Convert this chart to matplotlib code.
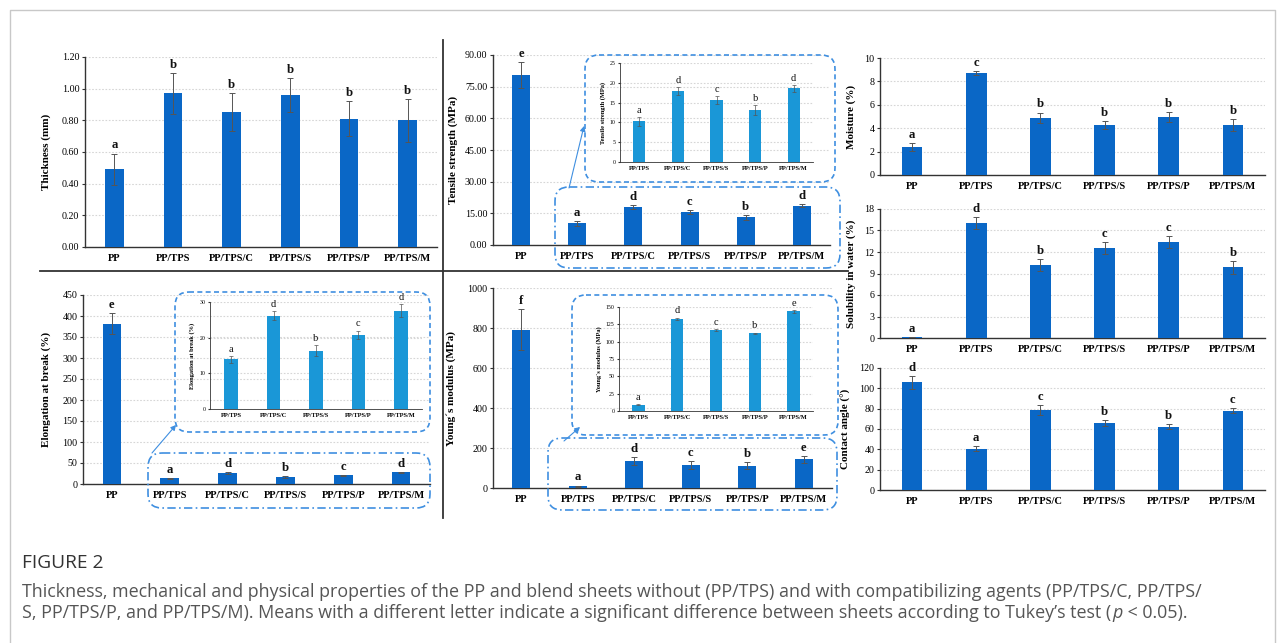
import matplotlib
matplotlib.use('Agg')
import matplotlib.pyplot as plt
from matplotlib.patches import FancyBboxPatch, FancyArrowPatch
import numpy as np

W, H = 1282, 643
SERIF = ['Liberation Serif', 'DejaVu Serif']
SANS = ['Open Sans', 'DejaVu Sans']

# ---------------- data ----------------
cats6 = ['PP', 'PP/TPS', 'PP/TPS/C', 'PP/TPS/S', 'PP/TPS/P', 'PP/TPS/M']
cats5 = ['PP/TPS', 'PP/TPS/C', 'PP/TPS/S', 'PP/TPS/P', 'PP/TPS/M']

thick = [0.49, 0.97, 0.85, 0.96, 0.81, 0.80]
thick_err = [0.10, 0.13, 0.12, 0.105, 0.11, 0.135]
thick_let = ['a', 'b', 'b', 'b', 'b', 'b']

tens = [80.5, 10.3, 18.0, 15.6, 13.1, 18.6]
tens_err = [6.0, 1.1, 1.0, 1.0, 1.2, 0.6]
tens_let = ['e', 'a', 'd', 'c', 'b', 'd']
tens_in = [10.3, 18.0, 15.6, 13.1, 18.6]
tens_in_err = [1.1, 1.0, 1.0, 1.2, 0.8]
tens_in_let = ['a', 'd', 'c', 'b', 'd']

elong = [382.0, 13.9, 26.2, 16.4, 20.8, 27.6]
elong_err = [24.0, 1.0, 1.2, 1.5, 1.2, 1.9]
elong_let = ['e', 'a', 'd', 'b', 'c', 'd']
elong_in = [13.9, 26.2, 16.4, 20.8, 27.6]
elong_in_err = [1.0, 1.2, 1.5, 1.2, 1.9]
elong_in_let = ['a', 'd', 'b', 'c', 'd']

young = [792.0, 9.2, 133.0, 116.6, 111.8, 143.7]
young_err = [103.0, 3.0, 20.0, 20.0, 16.0, 17.0]
young_let = ['f', 'a', 'd', 'c', 'b', 'e']
young_in = [9.2, 133.0, 116.6, 111.8, 143.7]
young_in_err = [1.0, 1.8, 1.6, 1.4, 2.2]
young_in_let = ['a', 'd', 'c', 'b', 'e']

moist = [2.37, 8.71, 4.89, 4.26, 4.94, 4.26]
moist_err = [0.35, 0.2, 0.45, 0.35, 0.45, 0.5]
moist_let = ['a', 'c', 'b', 'b', 'b', 'b']

solub = [0.15, 16.0, 10.15, 12.6, 13.4, 9.85]
solub_err = [0.0, 0.85, 0.85, 0.85, 0.85, 0.9]
solub_let = ['a', 'd', 'b', 'c', 'c', 'b']

angle = [105.9, 40.5, 78.6, 65.8, 62.2, 78.0]
angle_err = [6.3, 2.3, 4.6, 3.3, 2.6, 2.6]
angle_let = ['d', 'a', 'c', 'b', 'b', 'c']

# ---------------- figure ----------------
fig = plt.figure(figsize=(W / 100, H / 100), dpi=100)
fig.patch.set_facecolor('white')

MAIN_COL = '#0a67c6'
INSET_COL = '#1a97d7'
BOX_COL = '#3f8fe0'


def panel(px, cats, vals, errs, lets, ymax, step, fmt, ylabel, inset=False, labelpad=4):
    l, t, r, b = px
    ax = fig.add_axes([l / W, 1 - b / H, (r - l) / W, (b - t) / H])
    n = len(cats)
    x = np.arange(n) + 0.5
    if inset:
        fs_tick, fs_cat, fs_lab, fs_let = 4.2, 4.6, 4.6, 7.5
        col, ew, cs = INSET_COL, 0.5, 1.2
    else:
        fs_tick, fs_cat, fs_lab, fs_let = 7.2, 7.6, 8.0, 9.2
        col, ew, cs = MAIN_COL, 0.7, 2.0
    ax.bar(x, vals, width=0.32, color=col, zorder=3,
           yerr=errs, error_kw=dict(ecolor='#555555', elinewidth=ew, capsize=cs, capthick=ew, zorder=4))
    ax.set_xlim(0, n)
    ax.set_ylim(0, ymax)
    ticks = np.arange(0, ymax + step / 2, step)
    ax.set_yticks(ticks)
    ax.set_yticklabels([fmt.format(v) for v in ticks], fontfamily=SERIF, fontsize=fs_tick)
    ax.set_xticks(x)
    ax.set_xticklabels(cats, fontfamily=SERIF, fontsize=fs_cat, fontweight='bold')
    ax.tick_params(axis='x', length=0, pad=3 if inset else 5)
    ax.tick_params(axis='y', length=2 if not inset else 1.2, width=0.8, pad=2, color='#333333')
    ax.yaxis.grid(True, linestyle=(0, (1.5, 1.5)), color='#d6d6d6', linewidth=0.8, zorder=0)
    ax.set_axisbelow(True)
    for s in ['top', 'right']:
        ax.spines[s].set_visible(False)
    for s in ['left', 'bottom']:
        ax.spines[s].set_color('#333333')
        ax.spines[s].set_linewidth(1.0 if not inset else 0.6)
    ax.set_ylabel(ylabel, fontfamily=SERIF, fontsize=fs_lab, fontweight='bold', labelpad=labelpad)
    ax.patch.set_alpha(0)
    for xi, v, e, lt in zip(x, vals, errs, lets):
        ax.annotate(lt, (xi, v + e), xytext=(0, 1.5), textcoords='offset points',
                    ha='center', va='bottom', fontfamily=SERIF, fontsize=fs_let,
                    fontweight='normal' if inset else 'bold', color='#111111')
    return ax


panel((85, 57, 437, 247), cats6, thick, thick_err, thick_let, 1.2, 0.2, '{:.2f}', 'Thickness (mm)', labelpad=8)
panel((493, 55, 830, 245), cats6, tens, tens_err, tens_let, 90, 15, '{:.2f}', 'Tensile strength (MPa)', labelpad=5)
panel((83, 295, 430, 484), cats6, elong, elong_err, elong_let, 450, 50, '{:.0f}', 'Elongation at break (%)', labelpad=8)
panel((493, 288, 832, 488), cats6, young, young_err, young_let, 1000, 200, '{:.0f}', 'Young\u00b4s modulus (MPa)', labelpad=8)
panel((880, 58, 1265, 175), cats6, moist, moist_err, moist_let, 10, 2, '{:.0f}', 'Moisture (%)', labelpad=6)
panel((880, 209, 1265, 338), cats6, solub, solub_err, solub_let, 18, 3, '{:.0f}', 'Solubility in water (%)', labelpad=6)
panel((880, 368, 1265, 490), cats6, angle, angle_err, angle_let, 120, 20, '{:.0f}', 'Contact angle (\u00b0)', labelpad=6)

panel((620, 63, 813, 162), cats5, tens_in, tens_in_err, tens_in_let, 25, 5, '{:.0f}', 'Tensile strength (MPa)', inset=True, labelpad=3)
panel((210, 302, 422, 409), cats5, elong_in, elong_in_err, elong_in_let, 30, 10, '{:.0f}', 'Elongation at break (%)', inset=True, labelpad=3)
panel((619, 307, 813, 411), cats5, young_in, young_in_err, young_in_let, 150, 25, '{:.0f}', 'Young\u00b4s modulus (MPa)', inset=True, labelpad=3)

# ---------------- overlay (pixel coordinates) ----------------
ov = fig.add_axes([0, 0, 1, 1], zorder=20)
ov.set_xlim(0, W)
ov.set_ylim(H, 0)
ov.axis('off')
ov.patch.set_alpha(0)


def rbox(x0, y0, x1, y1, ls):
    p = FancyBboxPatch((x0, y0), x1 - x0, y1 - y0, boxstyle='round,pad=0,rounding_size=14',
                       fill=False, edgecolor=BOX_COL, linewidth=1.2, linestyle=ls)
    ov.add_patch(p)


def arrow(x0, y0, x1, y1):
    a = FancyArrowPatch((x0, y0), (x1, y1), arrowstyle='-|>,head_length=3,head_width=1.6',
                        color=BOX_COL, linewidth=0.8, shrinkA=0, shrinkB=0)
    ov.add_patch(a)


DASH = (0, (3, 2))
DASHDOT = (0, (5, 2, 1, 2))
rbox(585, 55, 835, 182, DASH)
rbox(555, 187, 840, 268, DASHDOT)
arrow(569, 188, 584, 126)

rbox(175, 292, 430, 432, DASH)
rbox(148, 453, 430, 508, DASHDOT)
arrow(152, 453, 176, 425)

rbox(572, 295, 838, 435, DASH)
rbox(548, 438, 837, 510, DASHDOT)
arrow(564, 441, 580, 427)

# separators
ov.plot([443, 443], [40, 518], color='#333333', linewidth=1.3)
ov.plot([40, 848], [271, 271], color='#333333', linewidth=1.3)

# outer frame
ov.plot([10, 10, 1275, 1275], [H, 10, 10, H], color='#c8c8c8', linewidth=1.0)

# ---------------- caption ----------------
CAP_FS = 12.9
fig.text(22 / W, 1 - 563 / H, 'FIGURE 2', fontfamily=SANS, fontsize=13.8, color='#333333',
         va='center', ha='left')
fig.text(22 / W, 1 - 592 / H,
         'Thickness, mechanical and physical properties of the PP and blend sheets without (PP/TPS) and with '
         'compatibilizing agents (PP/TPS/C, PP/TPS/',
         fontfamily=SANS, fontsize=CAP_FS, color='#555555', va='center', ha='left')
t1 = fig.text(22 / W, 1 - 613 / H,
              'S, PP/TPS/P, and PP/TPS/M). Means with a different letter indicate a significant difference '
              'between sheets according to Tukey\u2019s test (',
              fontfamily=SANS, fontsize=CAP_FS, color='#555555', va='center', ha='left')
a2 = ov.annotate('p', xy=(1, 0), xycoords=t1, xytext=(1, 0), textcoords='offset points',
                 ha='left', va='bottom', fontfamily=SANS, fontsize=CAP_FS, color='#555555', style='italic')
ov.annotate(' < 0.05).', xy=(1, 0), xycoords=a2, ha='left', va='bottom',
            fontfamily=SANS, fontsize=CAP_FS, color='#555555')

fig.savefig('out.png', dpi=100, facecolor='white')
